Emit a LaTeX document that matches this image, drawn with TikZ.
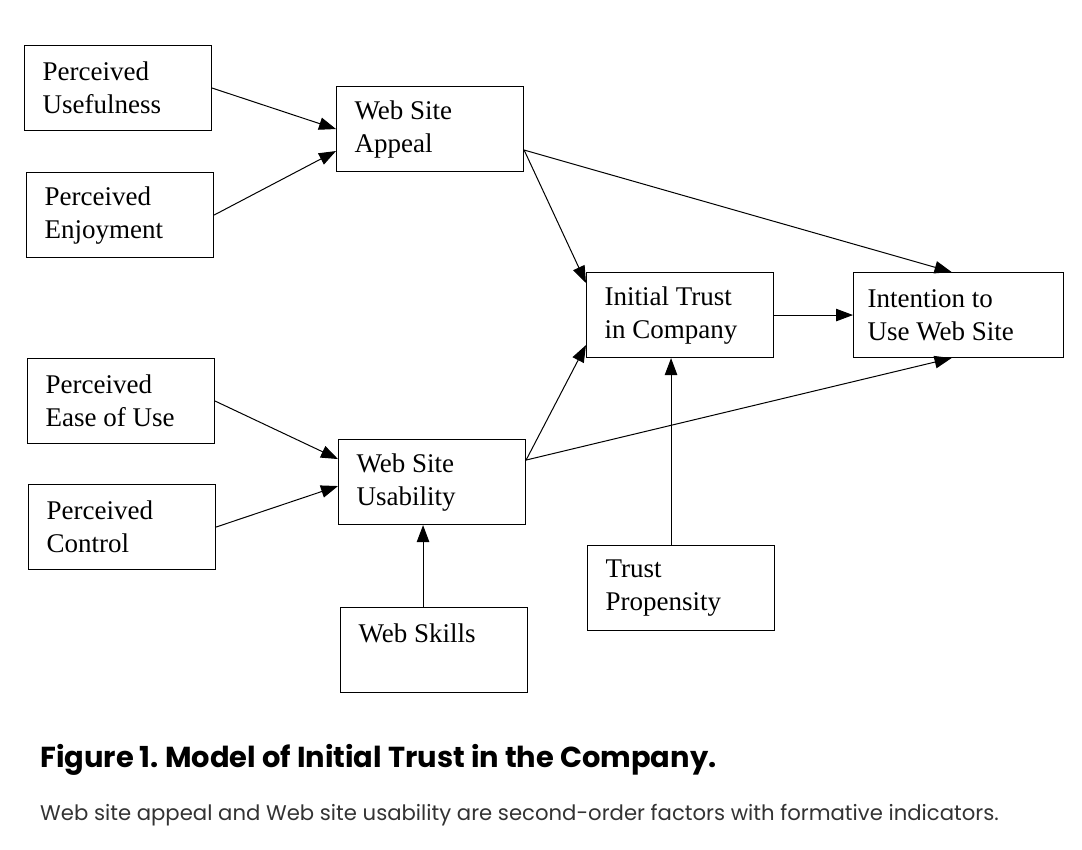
\documentclass[tikz,border=0pt]{standalone}
\usepackage{fontspec}
\setmainfont{Liberation Serif}
\newfontfamily\capfont{Poppins}
\usepackage{tikz}
\usetikzlibrary{arrows.meta,positioning,calc}
\tikzset{%
       factor/.style = { draw, line width=1.1pt, anchor=north west, align=flush left, minimum height=85pt,
                         inner xsep=18pt, inner ysep=0pt, text width=#1, font=\fontsize{27}{33}\selectfont },
     factor/.default = 151pt,
         link/.style = { line width=1pt, -{Triangle[length=17pt,width=12.5pt]} },
      caption/.style = { anchor=base west, inner sep=0pt, font=\capfont\bfseries\fontsize{28.9}{30}\selectfont },
         note/.style = { anchor=base west, inner sep=0pt, black!80, font=\capfont\fontsize{21.2}{24}\selectfont }
}
\begin{document}
\begin{tikzpicture}[x=1pt,y=-1pt]
\useasboundingbox (0,0) rectangle (1082,850);
% factors
\node[factor] (useful) at (24,45) {Perceived\\Usefulness};
\node[factor] (enjoy) at (26,172) {Perceived\\Enjoyment};
\node[factor] (appeal) at (336,86) {Web Site\\Appeal};
\node[factor] (trust) at (586,272) {Initial Trust\\in Company};
\node[factor=182pt, inner xsep=14pt] (intent) at (853,272) {Intention to\\Use Web Site};
\node[factor] (ease) at (27,358) {Perceived\\Ease of Use};
\node[factor] (control) at (28,484) {Perceived\\Control};
\node[factor] (usab) at (338,439) {Web Site\\Usability};
\node[factor] (skills) at (340,607) {Web Skills\\\mbox{}};
\node[factor] (prop) at (587,545) {Trust\\Propensity};
% paths
\draw[link] (useful.east) -- (appeal.west);
\draw[link] (enjoy.east) -- ([yshift=-22pt]appeal.west);
\draw[link] ([yshift=-21pt]appeal.east) -- ([yshift=-11pt]trust.north west);
\draw[link] ([yshift=-21pt]appeal.east) -- ([xshift=-7pt]intent.north);
\draw[link] (trust.east) -- (intent.west);
\draw[link] ([yshift=22pt]usab.east) -- ([yshift=-30pt]trust.west);
\draw[link] ([yshift=22pt]usab.east) -- ([xshift=-7pt]intent.south);
\draw[link] ([xshift=-10pt]prop.north) -- ([xshift=-10pt]prop.north |- trust.south);
\draw[link] (ease.east) -- ([yshift=23pt]usab.west);
\draw[link] (control.east) -- ([yshift=-4pt]usab.west);
\draw[link] ([xshift=-11pt]skills.north) -- ([xshift=-11pt]skills.north |- usab.south);
% caption
\node[caption] (title) at (40,767) {Figure 1.\ Model of Initial Trust in the Company.};
\node[note] (sub) at (40,820) {Web site appeal and Web site usability are second-order factors with formative indicators.};
\end{tikzpicture}
\end{document}
